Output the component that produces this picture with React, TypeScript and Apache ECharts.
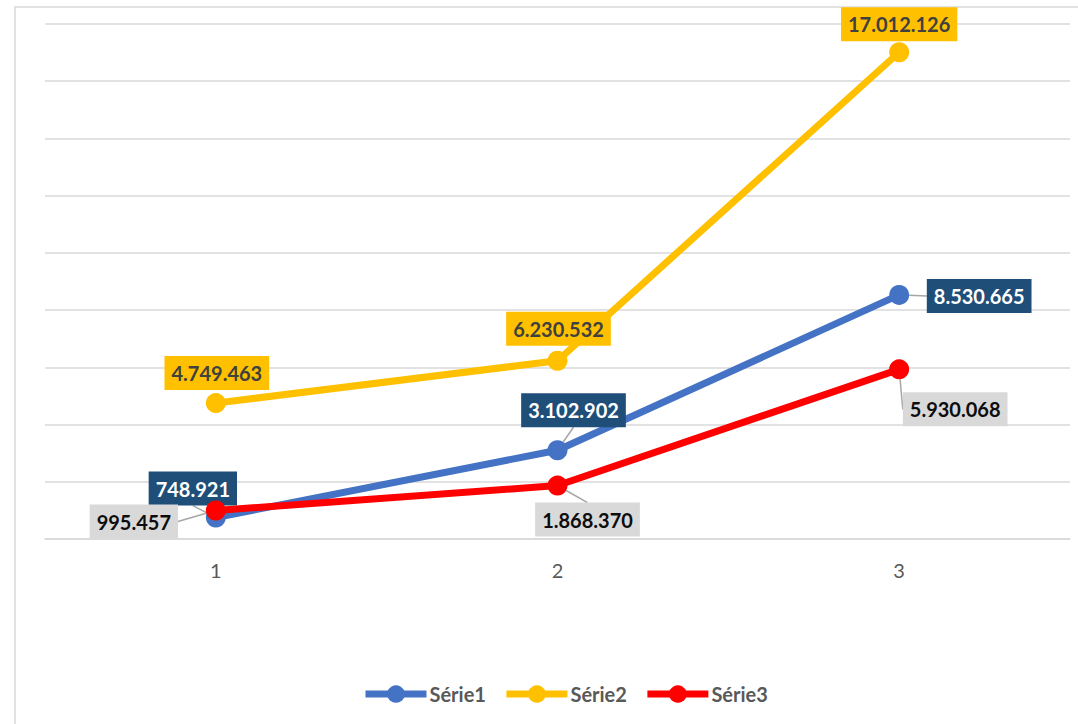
import React, { useEffect, useRef } from "react";
import * as echarts from "echarts";

const categories = ["1", "2", "3"];
const serieNames = ["Série1", "Série2", "Série3"];
const serie1 = [748921, 3102902, 8530665];
const serie2 = [4749463, 6230532, 17012126];
const serie3 = [995457, 1868370, 5930068];

const fmt = (v: number) => String(v).replace(/\B(?=(\d{3})+(?!\d))/g, ".");

export default function App() {
  const ref = useRef<HTMLDivElement>(null);
  useEffect(() => {
    if (!ref.current) return;
    const chart = echarts.init(ref.current, undefined, { renderer: "svg" });
    const font = "Lato, 'Open Sans', sans-serif";
    const offsets = [
      [[-23, -29], [16, -40], [80, 1]],
      [[1, -30], [1, -32], [0, -28]],
      [[-82, 11], [30, 34], [56, 40]],
    ];
    const colors = ["#4472C4", "#FFC000", "#FF0000"];
    const boxColors = ["#1F4E79", "#FFC000", "#D9D9D9"];
    const textColors = ["#FFFFFF", "#404040", "#0D0D0D"];
    const datasets = [serie1, serie2, serie3];
    const series = datasets.map((d, si) => ({
      name: serieNames[si],
      type: "line",
      data: d,
      symbol: "circle",
      symbolSize: 20,
      itemStyle: { color: colors[si] },
      lineStyle: { color: colors[si], width: 7 },
      label: {
        show: true,
        position: "inside",
        formatter: (p: any) => fmt(p.value),
        backgroundColor: boxColors[si],
        color: textColors[si],
        fontFamily: font,
        fontWeight: "bold",
        fontSize: 20,
        lineHeight: 22,
        padding: [6, 7],
      },
      labelLine: {
        show: si !== 1,
        lineStyle: { color: "#A6A6A6", width: 1.5 },
      },
      labelLayout: (params: any) => ({
        dx: offsets[si][params.dataIndex][0],
        dy: offsets[si][params.dataIndex][1],
        hideOverlap: false,
      }),
      z: 2 + si,
    }));
    chart.setOption({
      animation: false,
      backgroundColor: "#FFFFFF",
      grid: { left: 45, right: 8, top: 24, bottom: 185, containLabel: false },
      xAxis: {
        type: "category",
        data: categories,
        boundaryGap: true,
        axisLine: { lineStyle: { color: "#D9D9D9", width: 1.5 } },
        axisTick: { show: false },
        axisLabel: { color: "#595959", fontSize: 20, fontFamily: font, margin: 21 },
      },
      yAxis: {
        type: "value",
        min: 0,
        max: 18000000,
        interval: 2000000,
        axisLabel: { show: false },
        axisLine: { show: false },
        axisTick: { show: false },
        splitLine: { lineStyle: { color: "#D9D9D9", width: 1.5 } },
      },
      legend: {
        data: serieNames,
        top: 679,
        left: 357,
        itemWidth: 61,
        itemHeight: 22,
        itemGap: 17,
        lineStyle: { width: 7 },
        textStyle: {
          color: "#595959",
          fontSize: 20,
          fontFamily: font,
          fontWeight: "bold",
          padding: [0, 0, 0, -2],
        },
      },
      graphic: [
        {
          type: "rect",
          shape: { x: 15, y: 7, width: 1100, height: 800 },
          style: { fill: "none", stroke: "#D9D9D9", lineWidth: 1.5 },
          silent: true,
          z: -10,
        },
      ],
      series,
    });
    return () => chart.dispose();
  }, []);
  return (
    <div
      ref={ref}
      style={{ position: "absolute", left: 0, top: 0, width: 1078, height: 724 }}
    />
  );
}
